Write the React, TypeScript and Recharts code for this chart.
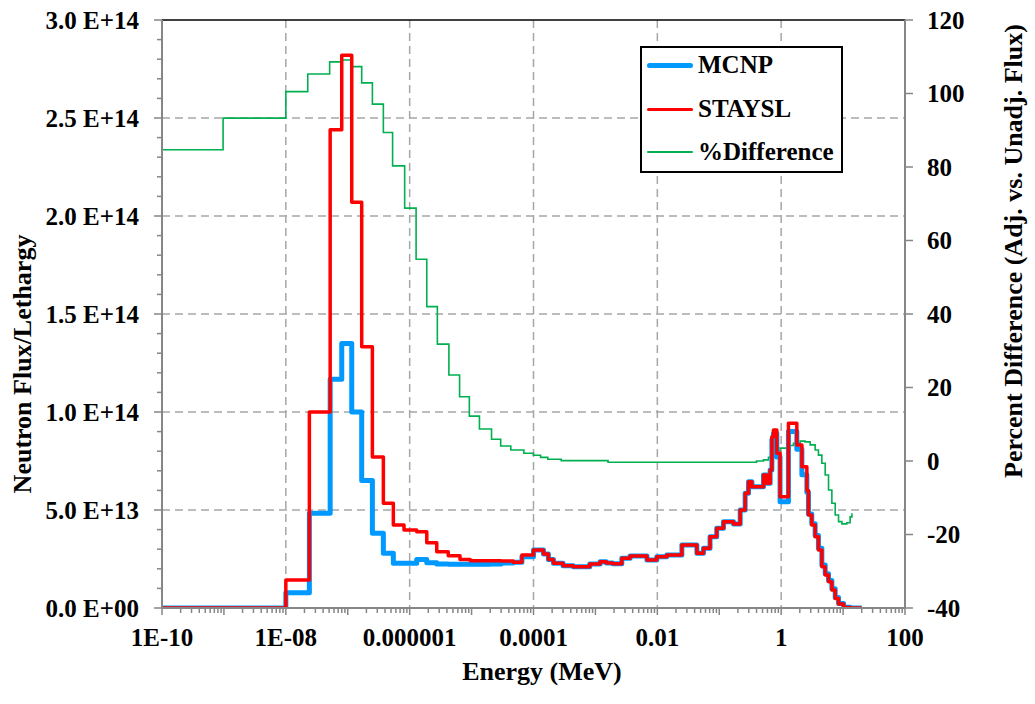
import React from 'react';
import { LineChart, Line, XAxis, YAxis, CartesianGrid, ReferenceLine, Legend, Label } from 'recharts';

// ---------- data ----------
// Energy bin lower edges (MeV); the last value closes the final bin
const binEnergy = [
  1e-10, 1e-8, 2.4e-8, 5.2e-8, 8e-8, 1.16e-7, 1.68e-7, 2.5e-7, 3.76e-7, 5.45e-7,
  8.1e-7, 1.3e-6, 1.89e-6, 2.74e-6, 4.2e-6, 6.5e-6, 9.5e-6, 2.0e-5, 3.0e-5, 4.7e-5,
  6.5e-5, 1e-4, 1.45e-4, 1.74e-4, 2.1e-4, 3.0e-4, 4.4e-4, 8.1e-4, 1.19e-3, 1.5e-3,
  1.9e-3, 2.67e-3, 3.63e-3, 6.8e-3, 9.8e-3, 1.42e-2, 2.49e-2, 4.35e-2, 5.56e-2, 7.1e-2,
  9.1e-2, 0.117, 0.17, 0.218, 0.262, 0.297, 0.337, 0.518, 0.587, 0.664,
  0.708, 0.751, 0.851, 0.96, 1.31, 1.79, 2.16, 2.6, 2.76, 3.12,
  3.54, 4.0, 4.54, 5.14, 5.82, 6.59, 7.46, 8.45, 10.2, 13,
  20,
];

const mcnpFlux = [
  0, 7.8e12, 4.83e13, 1.167e14, 1.35e14, 1.0e14, 6.5e13, 3.81e13, 2.79e13, 2.28e13,
  2.28e13, 2.48e13, 2.31e13, 2.25e13, 2.23e13, 2.23e13, 2.23e13, 2.25e13, 2.3e13, 2.33e13,
  2.62e13, 2.96e13, 2.75e13, 2.48e13, 2.28e13, 2.16e13, 2.1e13, 2.24e13, 2.36e13, 2.3e13,
  2.26e13, 2.54e13, 2.65e13, 2.45e13, 2.62e13, 2.7e13, 3.21e13, 2.79e13, 3.05e13, 3.64e13,
  4.07e13, 4.4e13, 4.29e13, 5.0e13, 5.85e13, 6.44e13, 6.19e13, 6.79e13, 6.36e13, 7.04e13,
  8.6e13, 8.9e13, 7.7e13, 5.42e13, 9.0e13, 8.1e13, 6.8e13, 5.9e13, 4.8e13, 4.3e13,
  3.7e13, 3.05e13, 2.2e13, 1.75e13, 1.4e13, 9.8e12, 5.4e12, 2.3e12, 4e11, 0,
  0,
];

const staysFlux = [
  0, 1.43e13, 1.0e14, 2.44e14, 2.82e14, 2.07e14, 1.333e14, 7.7e13, 5.34e13, 4.23e13,
  3.98e13, 3.89e13, 3.33e13, 2.87e13, 2.67e13, 2.48e13, 2.41e13, 2.41e13, 2.4e13, 2.33e13,
  2.7e13, 2.96e13, 2.75e13, 2.48e13, 2.28e13, 2.16e13, 2.1e13, 2.24e13, 2.36e13, 2.3e13,
  2.26e13, 2.54e13, 2.65e13, 2.45e13, 2.62e13, 2.7e13, 3.21e13, 2.79e13, 3.05e13, 3.64e13,
  4.07e13, 4.4e13, 4.29e13, 5.0e13, 5.85e13, 6.44e13, 6.19e13, 6.79e13, 6.36e13, 7.04e13,
  8.74e13, 9.08e13, 7.89e13, 5.68e13, 9.42e13, 8.32e13, 7.21e13, 6.0e13, 4.74e13, 4.23e13,
  3.64e13, 2.96e13, 2.1e13, 1.68e13, 1.34e13, 9.2e12, 4.9e12, 2.0e12, 3e11, 0,
  0,
];

const diffEnergy = [
  1e-10, 9.7e-10, 1e-8, 2.26e-8, 5.1e-8, 8e-8, 1.17e-7, 1.68e-7, 2.5e-7, 3.76e-7,
  5.3e-7, 8.3e-7, 1.27e-6, 1.89e-6, 2.8e-6, 4.3e-6, 6.4e-6, 9.2e-6, 1.34e-5, 2.1e-5,
  2.95e-5, 4.3e-5, 7.0e-5, 1e-4, 1.3e-4, 1.7e-4, 2.8e-4, 1.6e-3, 0.4, 0.518,
  0.624, 0.75, 0.96, 1.24, 1.58, 2.03, 2.44, 2.94, 3.54, 4.0,
  4.54, 5.14, 5.82, 6.59, 7.46, 8.45, 9.57, 11.5, 13.0, 13.9,
];

const diffPct = [
  84.7, 93.3, 100.5, 105.3, 108.6, 109.1, 107.3, 102.9, 97.1, 89.4,
  80.3, 68.8, 54.9, 42.0, 31.8, 23.4, 17.5, 12.2, 8.7, 5.9,
  4.1, 3.0, 2.1, 1.55, 1.0, 0.46, 0.1, -0.35, 0.0, 0.3,
  1.0, 1.6, 3.5, 4.2, 4.8, 5.4, 5.2, 4.4, 3.0, 1.6,
  -0.6, -3.8, -7.9, -11.5, -14.7, -16.5, -17.1, -16.8, -15.2, -14.2,
];

const xTickValues = [1e-10, 1e-8, 1e-6, 1e-4, 1e-2, 1, 100];
const xTickLabels = ['1E-10', '1E-08', '0.000001', '0.0001', '0.01', '1', '100'];
const xGridValues = [1e-8, 1e-6, 1e-4, 1e-2, 1];

const fluxTickValues = [0, 5e13, 1e14, 1.5e14, 2e14, 2.5e14, 3e14];
const fluxTickLabels = ['0.0 E+00', '5.0 E+13', '1.0 E+14', '1.5 E+14', '2.0 E+14', '2.5 E+14', '3.0 E+14'];
const fluxGridValues = [5e13, 1e14, 1.5e14, 2e14, 2.5e14];

const pctTickValues = [-40, -20, 0, 20, 40, 60, 80, 100, 120];

const seriesNames = ['MCNP', 'STAYSL', '%Difference'];
const seriesColors = ['#0099ff', '#ff0000', '#00b050'];

// ---------- built tables ----------
const mcnpData = binEnergy.map((x, i) => ({ x, y: mcnpFlux[i] }));
const staysData = binEnergy.map((x, i) => ({ x, y: staysFlux[i] }));
const diffData = diffEnergy.map((x, i) => ({ x, y: diffPct[i] }));

// tick positions (log minor ticks on x, 0.1E+14 minor ticks on left y)
const xAllTicks: number[] = [];
for (let d = -10; d < 2; d++) {
  for (let m = 1; m <= 9; m++) xAllTicks.push(Number((m * Math.pow(10, d)).toPrecision(6)));
}
xAllTicks.push(100);
const fluxAllTicks: number[] = [];
for (let k = 0; k <= 30; k++) fluxAllTicks.push(k * 1e13);

// ---------- styling ----------
const FONT = '"Liberation Serif", "Times New Roman", serif';
const AXIS = '#868686';
const textStyle: React.CSSProperties = { fontFamily: FONT, fontWeight: 700, fontSize: 25, fill: '#000' };

function XTick(props: any) {
  const { x, y, payload } = props;
  const v = payload.value as number;
  const idx = xTickValues.findIndex((t) => Math.abs(t - v) / t < 1e-6);
  const mant = v / Math.pow(10, Math.floor(Math.log10(v) + 1e-9));
  const isDecade = Math.abs(mant - 1) < 1e-6;
  return (
    <g>
      <line x1={x} x2={x} y1={y} y2={y + (isDecade ? 7 : 5)} stroke={AXIS} strokeWidth={1.5} />
      {idx >= 0 && (
        <text x={x} y={y + 38} textAnchor="middle" style={textStyle}>
          {xTickLabels[idx]}
        </text>
      )}
    </g>
  );
}

function FluxTick(props: any) {
  const { x, y, payload } = props;
  const v = payload.value as number;
  const idx = fluxTickValues.findIndex((t) => Math.abs(t - v) < 1e9);
  return (
    <g>
      <line x1={x - (idx >= 0 ? 8 : 5)} x2={x} y1={y} y2={y} stroke={AXIS} strokeWidth={1.5} />
      {idx >= 0 && (
        <text x={x - 23} y={y} dy="0.34em" textAnchor="end" style={textStyle}>
          {fluxTickLabels[idx]}
        </text>
      )}
    </g>
  );
}

const legendRowCenters = [17, 61, 104];
const legendLineWidths = [5, 3, 2];

function LegendBox() {
  return (
    <div
      style={{
        width: 203,
        height: 127,
        boxSizing: 'border-box',
        border: '2px solid #000',
        background: '#fff',
        position: 'relative',
      }}
    >
      {seriesNames.map((name, i) => (
        <div
          key={name}
          style={{
            position: 'absolute',
            left: 0,
            top: legendRowCenters[i] - 20,
            height: 40,
            display: 'flex',
            alignItems: 'center',
            whiteSpace: 'nowrap',
          }}
        >
          <div
            style={{
              marginLeft: 5,
              width: 46,
              height: legendLineWidths[i],
              background: seriesColors[i],
              borderRadius: legendLineWidths[i] / 2,
            }}
          />
          <span
            style={{
              marginLeft: 5,
              fontFamily: FONT,
              fontWeight: 700,
              fontSize: 25,
              lineHeight: '40px',
              color: '#000',
            }}
          >
            {name}
          </span>
        </div>
      ))}
    </div>
  );
}

export default function App() {
  return (
    <div style={{ position: 'absolute', left: 0, top: 0, width: 1035, height: 704, background: '#fff' }}>
      <LineChart width={1035} height={704} margin={{ top: 20, right: 0, bottom: 0, left: 0 }}>
        <CartesianGrid
          yAxisId="left"
          horizontalValues={fluxGridValues}
          verticalValues={xGridValues}
          stroke="#a6a6a6"
          strokeWidth={1.5}
          strokeDasharray="8 5"
        />
        <XAxis
          dataKey="x"
          type="number"
          scale="log"
          domain={[1e-10, 100]}
          allowDataOverflow
          ticks={xAllTicks}
          interval={0}
          tickSize={0}
          tickMargin={0}
          tick={<XTick />}
          axisLine={{ stroke: AXIS, strokeWidth: 2 }}
          height={96}
        >
          <Label
            content={() => (
              <text x={542} y={680} textAnchor="middle" style={{ ...textStyle, fontSize: 26 }}>
                Energy (MeV)
              </text>
            )}
          />
        </XAxis>
        <YAxis
          yAxisId="left"
          type="number"
          domain={[0, 3e14]}
          allowDataOverflow
          ticks={fluxAllTicks}
          interval={0}
          tickSize={0}
          tickMargin={0}
          tick={<FluxTick />}
          axisLine={{ stroke: AXIS, strokeWidth: 2 }}
          width={162}
        >
          <Label
            content={() => (
              <text
                x={22}
                y={364}
                transform="rotate(-90, 22, 364)"
                textAnchor="middle"
                dy="0.34em"
                style={{ ...textStyle, fontSize: 26 }}
              >
                Neutron Flux/Lethargy
              </text>
            )}
          />
        </YAxis>
        <YAxis
          yAxisId="pct"
          orientation="right"
          type="number"
          domain={[-40, 120]}
          allowDataOverflow
          ticks={pctTickValues}
          interval={0}
          tickSize={8}
          tickMargin={14}
          tickLine={{ stroke: AXIS, strokeWidth: 1.5 }}
          tick={{ ...textStyle } as any}
          axisLine={{ stroke: AXIS, strokeWidth: 2 }}
          width={130}
        >
          <Label
            content={() => (
              <text
                x={1013}
                y={251}
                transform="rotate(-90, 1013, 251)"
                textAnchor="middle"
                dy="0.34em"
                style={{ ...textStyle, fontSize: 26 }}
              >
                Percent Difference (Adj. vs. Unadj. Flux)
              </text>
            )}
          />
        </YAxis>
        <ReferenceLine yAxisId="left" y={3e14} stroke="#000" strokeWidth={1.5} />
        <Legend
          layout="vertical"
          align="center"
          verticalAlign="middle"
          wrapperStyle={{ left: 640, top: 46, width: 203, height: 127 }}
          content={() => <LegendBox />}
        />
        <Line
          data={diffData}
          dataKey="y"
          yAxisId="pct"
          type="stepAfter"
          stroke={seriesColors[2]}
          strokeWidth={1.6}
          dot={false}
          activeDot={false}
          isAnimationActive={false}
          name={seriesNames[2]}
        />
        <Line
          data={mcnpData}
          dataKey="y"
          yAxisId="left"
          type="stepAfter"
          stroke={seriesColors[0]}
          strokeWidth={5}
          strokeLinejoin="round"
          dot={false}
          activeDot={false}
          isAnimationActive={false}
          name={seriesNames[0]}
        />
        <Line
          data={staysData}
          dataKey="y"
          yAxisId="left"
          type="stepAfter"
          stroke={seriesColors[1]}
          strokeWidth={3.5}
          strokeLinejoin="round"
          dot={false}
          activeDot={false}
          isAnimationActive={false}
          name={seriesNames[1]}
        />
      </LineChart>
    </div>
  );
}
